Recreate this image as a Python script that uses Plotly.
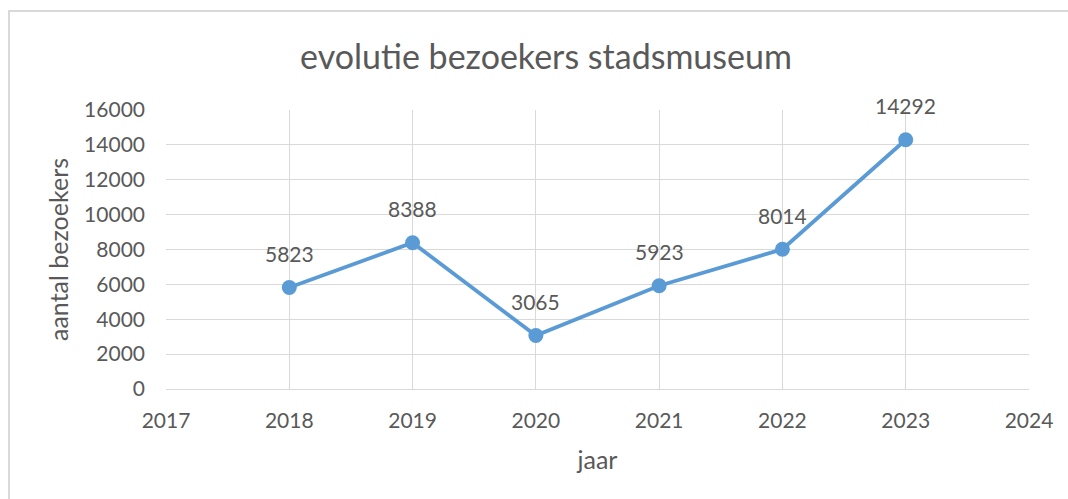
import plotly.graph_objects as go

years = [2018, 2019, 2020, 2021, 2022, 2023]
visitors = [5823, 8388, 3065, 5923, 8014, 14292]
title_text = "evolutie bezoekers stadsmuseum"
x_title = "jaar"
y_title = "aantal bezoekers"

W, H = 1068, 499
L, R, T, B = 166, 39, 110, 110
FONT = "Lato"
TXT = "#595959"
GRID = "#d9d9d9"
BLUE = "#5B9BD5"

fig = go.Figure()
fig.add_trace(go.Scatter(
    x=years, y=visitors, mode="lines+markers",
    line=dict(color=BLUE, width=3.8),
    marker=dict(color=BLUE, size=15),
    hoverinfo="skip", showlegend=False,
))
for xv, yv in zip(years, visitors):
    fig.add_annotation(x=xv, y=yv, text=str(yv), showarrow=False,
                       yshift=34, font=dict(family=FONT, size=21, color=TXT),
                       xref="x", yref="y")

pw, ph = W - L - R, H - T - B
fig.add_shape(type="rect", xref="paper", yref="paper",
              x0=(9 - L) / pw, x1=(W + 10 - L) / pw,
              y0=(H - B - (H + 10)) / ph, y1=(H - B - 11) / ph,
              line=dict(color=GRID, width=2), fillcolor="rgba(0,0,0,0)", layer="below")

fig.update_layout(
    width=W, height=H,
    margin=dict(l=L, r=R, t=T, b=B, pad=0),
    paper_bgcolor="white", plot_bgcolor="white",
    font=dict(family=FONT, color=TXT, size=21),
    title=dict(text=title_text, x=546 / W, xanchor="center", xref="container",
               y=1 - 57 / H, yanchor="middle", yref="container",
               font=dict(family=FONT, size=34, color=TXT)),
    xaxis=dict(range=[2017, 2024], tickmode="linear", tick0=2017, dtick=1,
               showgrid=True, gridcolor=GRID, gridwidth=1,
               showline=True, linecolor=GRID, linewidth=1, mirror=False,
               zeroline=False, ticks="", ticklabelstandoff=13,
               tickfont=dict(family=FONT, size=21, color=TXT),
               title=dict(text=x_title, standoff=20, font=dict(family=FONT, size=25, color=TXT))),
    yaxis=dict(range=[0, 16000], tickmode="linear", tick0=0, dtick=2000,
               showgrid=True, gridcolor=GRID, gridwidth=1,
               zeroline=False, showline=False, ticks="", ticklabelstandoff=20,
               tickformat="d",
               tickfont=dict(family=FONT, size=21, color=TXT),
               title=dict(text=y_title, standoff=8, font=dict(family=FONT, size=25, color=TXT))),
)

fig.write_html("out.html", config={"displayModeBar": False},
               post_script="document.body.style.margin='0';")
